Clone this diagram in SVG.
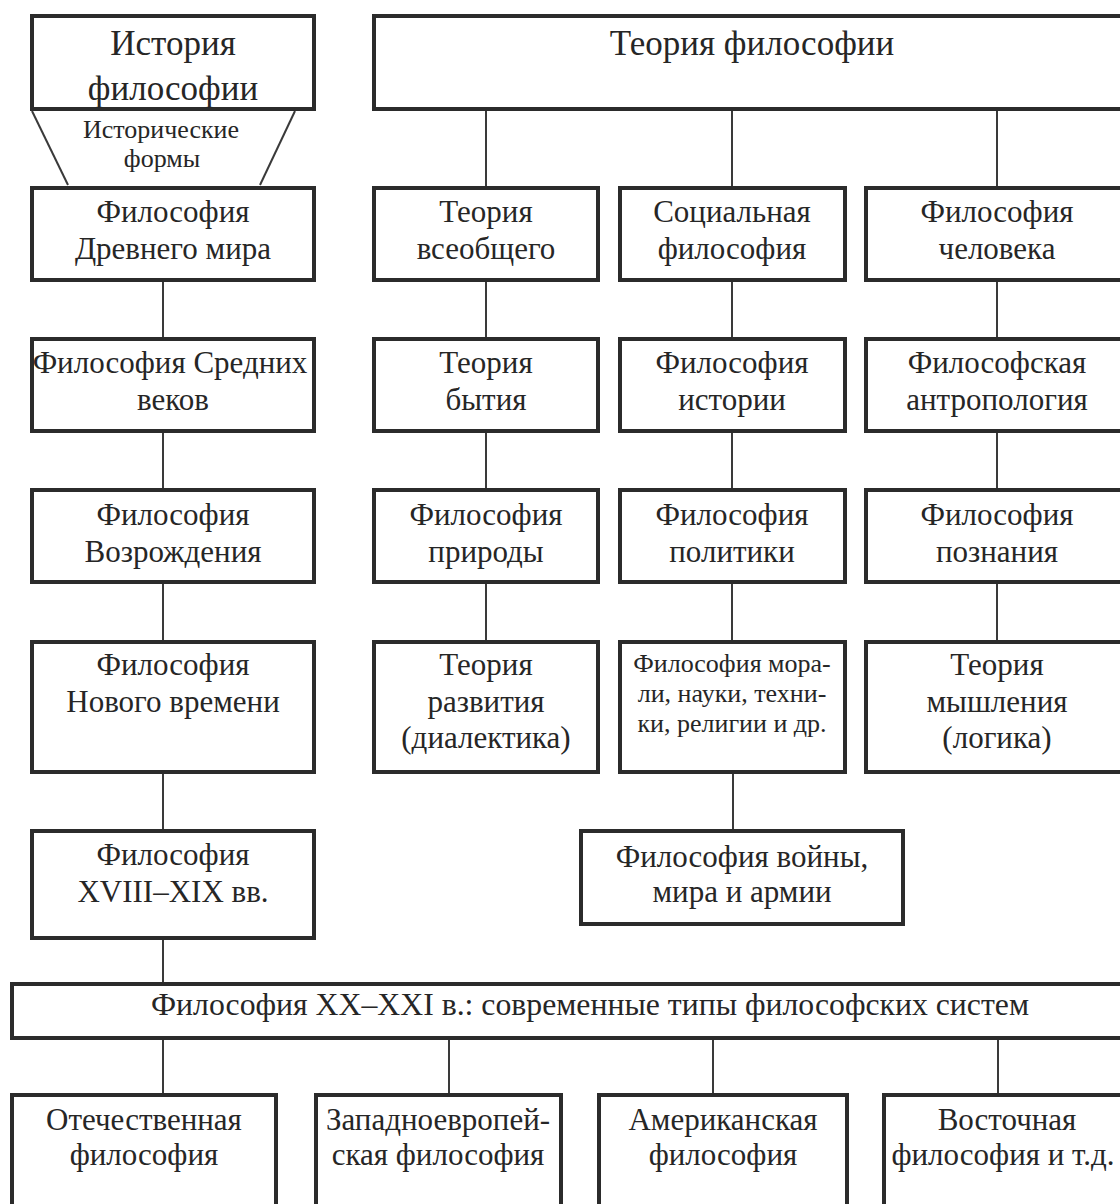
<svg xmlns="http://www.w3.org/2000/svg" width="1120" height="1204" viewBox="0 0 1120 1204">
<style>
.box{fill:#fff;stroke:#2b2b2b;stroke-width:4}
.ln{stroke:#3a3a3a;stroke-width:2;fill:none}
text{font-family:"Liberation Serif","Times New Roman",serif;fill:#262626;text-anchor:middle}
.t{font-size:31px}
.h{font-size:35px}
.s{font-size:26px}
</style>
<rect width="1120" height="1204" fill="#fff"/>
<g id="connectors">
<line class="ln" x1="32" y1="111" x2="68" y2="185"/>
<line class="ln" x1="295" y1="111" x2="260" y2="185"/>
<line class="ln" x1="163" y1="282" x2="163" y2="337"/>
<line class="ln" x1="163" y1="433" x2="163" y2="488"/>
<line class="ln" x1="163" y1="584" x2="163" y2="640"/>
<line class="ln" x1="163" y1="774" x2="163" y2="829"/>
<line class="ln" x1="163" y1="940" x2="163" y2="982"/>
<line class="ln" x1="486" y1="111" x2="486" y2="186"/>
<line class="ln" x1="732" y1="111" x2="732" y2="186"/>
<line class="ln" x1="997" y1="111" x2="997" y2="186"/>
<line class="ln" x1="486" y1="282" x2="486" y2="337"/>
<line class="ln" x1="732" y1="282" x2="732" y2="337"/>
<line class="ln" x1="997" y1="282" x2="997" y2="337"/>
<line class="ln" x1="486" y1="433" x2="486" y2="488"/>
<line class="ln" x1="732" y1="433" x2="732" y2="488"/>
<line class="ln" x1="997" y1="433" x2="997" y2="488"/>
<line class="ln" x1="486" y1="584" x2="486" y2="640"/>
<line class="ln" x1="732" y1="584" x2="732" y2="640"/>
<line class="ln" x1="997" y1="584" x2="997" y2="640"/>
<line class="ln" x1="733" y1="774" x2="733" y2="829"/>
<line class="ln" x1="163" y1="1040" x2="163" y2="1093"/>
<line class="ln" x1="449" y1="1040" x2="449" y2="1093"/>
<line class="ln" x1="713" y1="1040" x2="713" y2="1093"/>
<line class="ln" x1="998" y1="1040" x2="998" y2="1093"/>
</g>
<g id="istoriya"><rect class="box" x="32" y="16" width="282" height="93"/><text class="h" x="173" y="55">История</text><text class="h" x="173" y="100">философии</text></g>
<g id="formy"><text class="s" x="161" y="138">Исторические</text><text class="s" x="162" y="167">формы</text></g>
<g id="drevniy"><rect class="box" x="32" y="188" width="282" height="92"/><text class="t" x="173" y="222">Философия</text><text class="t" x="173" y="259">Древнего мира</text></g>
<g id="sredniye"><rect class="box" x="32" y="339" width="282" height="92"/><text class="t" x="170" y="373">Философия Средних</text><text class="t" x="173" y="410">веков</text></g>
<g id="vozrozhdeniye"><rect class="box" x="32" y="490" width="282" height="92"/><text class="t" x="173" y="525">Философия</text><text class="t" x="173" y="562">Возрождения</text></g>
<g id="novoye"><rect class="box" x="32" y="642" width="282" height="130"/><text class="t" x="173" y="675">Философия</text><text class="t" x="173" y="712">Нового времени</text></g>
<g id="xviii"><rect class="box" x="32" y="831" width="282" height="107"/><text class="t" x="173" y="865">Философия</text><text class="t" x="173" y="902">XVIII–XIX вв.</text></g>
<g id="teoriya-fil"><rect class="box" x="374" y="16" width="760" height="93"/><text class="h" x="752" y="55">Теория философии</text></g>
<g id="vseobshchee"><rect class="box" x="374" y="188" width="224" height="92"/><text class="t" x="486" y="222">Теория</text><text class="t" x="486" y="259">всеобщего</text></g>
<g id="socialnaya"><rect class="box" x="620" y="188" width="225" height="92"/><text class="t" x="732" y="222">Социальная</text><text class="t" x="732" y="259">философия</text></g>
<g id="chelovek"><rect class="box" x="866" y="188" width="270" height="92"/><text class="t" x="997" y="222">Философия</text><text class="t" x="997" y="259">человека</text></g>
<g id="bytiye"><rect class="box" x="374" y="339" width="224" height="92"/><text class="t" x="486" y="373">Теория</text><text class="t" x="486" y="410">бытия</text></g>
<g id="istorii"><rect class="box" x="620" y="339" width="225" height="92"/><text class="t" x="732" y="373">Философия</text><text class="t" x="732" y="410">истории</text></g>
<g id="antropologiya"><rect class="box" x="866" y="339" width="270" height="92"/><text class="t" x="997" y="373">Философская</text><text class="t" x="997" y="410">антропология</text></g>
<g id="priroda"><rect class="box" x="374" y="490" width="224" height="92"/><text class="t" x="486" y="525">Философия</text><text class="t" x="486" y="562">природы</text></g>
<g id="politika"><rect class="box" x="620" y="490" width="225" height="92"/><text class="t" x="732" y="525">Философия</text><text class="t" x="732" y="562">политики</text></g>
<g id="poznaniye"><rect class="box" x="866" y="490" width="270" height="92"/><text class="t" x="997" y="525">Философия</text><text class="t" x="997" y="562">познания</text></g>
<g id="razvitiye"><rect class="box" x="374" y="642" width="224" height="130"/><text class="t" x="486" y="675">Теория</text><text class="t" x="486" y="712">развития</text><text class="t" x="486" y="748">(диалектика)</text></g>
<g id="morali"><rect class="box" x="620" y="642" width="225" height="130"/><text class="s" x="732" y="672">Философия мора-</text><text class="s" x="732" y="702">ли, науки, техни-</text><text class="s" x="732" y="732">ки, религии и др.</text></g>
<g id="myshleniye"><rect class="box" x="866" y="642" width="270" height="130"/><text class="t" x="997" y="675">Теория</text><text class="t" x="997" y="712">мышления</text><text class="t" x="997" y="748">(логика)</text></g>
<g id="voyna"><rect class="box" x="581" y="831" width="322" height="93"/><text class="t" x="742" y="867">Философия войны,</text><text class="t" x="742" y="902">мира и армии</text></g>
<g id="xx"><rect class="box" x="12" y="984" width="1120" height="54"/><text class="t" x="590" y="1015" textLength="878" lengthAdjust="spacingAndGlyphs">Философия XX–XXI в.: современные типы философских систем</text></g>
<g id="otechestvennaya"><rect class="box" x="12" y="1095" width="264" height="150"/><text class="t" x="144" y="1130">Отечественная</text><text class="t" x="144" y="1165">философия</text></g>
<g id="zapadnaya"><rect class="box" x="316" y="1095" width="245" height="150"/><text class="t" x="438" y="1130">Западноевропей-</text><text class="t" x="438" y="1165">ская философия</text></g>
<g id="amerikanskaya"><rect class="box" x="599" y="1095" width="248" height="150"/><text class="t" x="723" y="1130">Американская</text><text class="t" x="723" y="1165">философия</text></g>
<g id="vostochnaya"><rect class="box" x="884" y="1095" width="260" height="150"/><text class="t" x="1007" y="1130">Восточная</text><text class="t" x="1003" y="1165">философия и т.д.</text></g>
</svg>
